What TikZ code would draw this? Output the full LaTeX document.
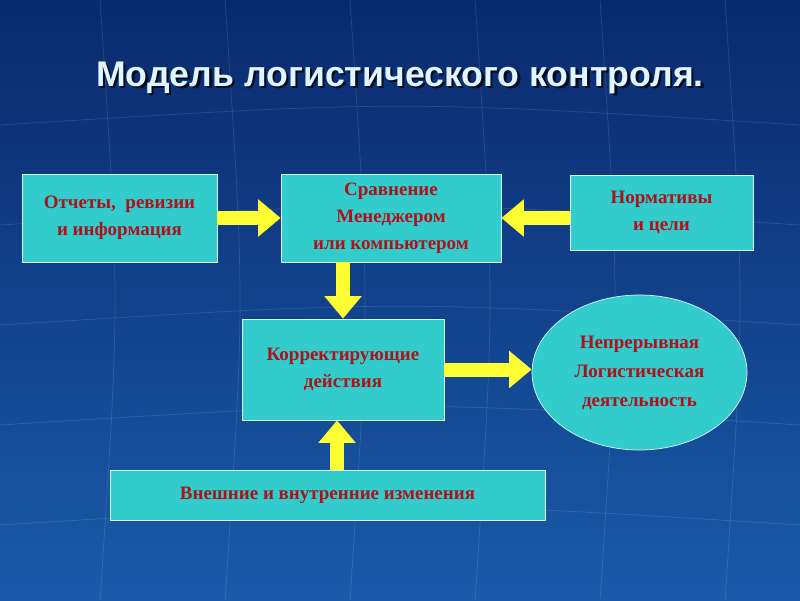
\documentclass[tikz,border=0pt]{standalone}
\usepackage{fontspec}
\setmainfont{Liberation Serif}
\newfontfamily\titlefont{Liberation Sans}
\usetikzlibrary{shapes.geometric, arrows.meta}

\definecolor{bgtop}{HTML}{0A2A6E}
\definecolor{bgbot}{HTML}{1A5AA8}
\definecolor{boxfill}{HTML}{33CCCC}
\definecolor{boxtext}{HTML}{B0101A}
\definecolor{arrowyel}{HTML}{FFFF33}

\begin{document}
\begin{tikzpicture}
    \tikzstyle{box} = [rectangle, draw=white!85!cyan, thin, fill=boxfill, text=boxtext, font=\bfseries\fontsize{10.8}{15.5}\selectfont, align=center, inner sep=2pt]
    \tikzstyle{oval} = [ellipse, draw=white!85!cyan, thin, fill=boxfill, text=boxtext, font=\bfseries\fontsize{10.8}{16.5}\selectfont, align=center]
    \tikzstyle{arrow} = [draw=arrowyel, line width=0.28cm, -{Triangle[length=0.45cm, width=0.72cm]}]
    \tikzstyle{titletext} = [font=\titlefont\bfseries\fontsize{20.3}{24}\selectfont]

    % background
    \shade[top color=bgtop, bottom color=bgbot] (0,0) rectangle (16,12);
    \useasboundingbox (0,0) rectangle (16,12);
    \foreach \x in {2,4.5,7,9.5,12,14.5} {
        \draw[white, opacity=0.12] (\x,0) .. controls (\x+0.4,6) .. (\x,12);
    }
    \foreach \y in {1.5,3.5,5.5,7.5,9.5} {
        \draw[white, opacity=0.12] (0,\y) .. controls (8,\y+0.5) .. (16,\y);
    }

    \node (shadow) [titletext, text=black!70!bgtop] at (8.05,10.4) {Модель логистического контроля.};
    \node (title) [titletext, text=white!88!cyan] at (8,10.45) {Модель логистического контроля.};

    \node (reports) [box, minimum width=3.9cm, minimum height=1.76cm] at (2.39,7.64) {Отчеты,\ \ ревизии\\ и информация};
    \node (compare) [box, minimum width=4.4cm, minimum height=1.76cm] at (7.82,7.64) {Сравнение\\ Менеджером\\ или компьютером};
    \node (norms) [box, minimum width=3.66cm, minimum height=1.5cm] at (13.23,7.75) {Нормативы\\ и цели};
    \node (correct) [box, minimum width=4.04cm, minimum height=2.02cm] at (6.86,4.61) {Корректирующие\\ действия};
    \node (activity) [oval, minimum width=4.3cm, minimum height=3.1cm, inner sep=0pt] at (12.79,4.55) {Непрерывная\\ Логистическая\\ деятельность};
    \node (changes) [box, minimum width=8.7cm, minimum height=1.0cm] at (6.55,2.1) {Внешние и внутренние изменения};

    % Arrows
    \draw [arrow] (reports) -- (compare);
    \draw [arrow] (norms.west |- compare.east) -- (compare.east);
    \draw [arrow] (correct.north |- compare.south) -- (correct.north);
    \draw [arrow] (correct.east) -- (activity.west |- correct.east);
    \draw [arrow] ([xshift=-0.12cm]correct.south |- changes.north) -- ([xshift=-0.12cm]correct.south);
\end{tikzpicture}
\end{document}
